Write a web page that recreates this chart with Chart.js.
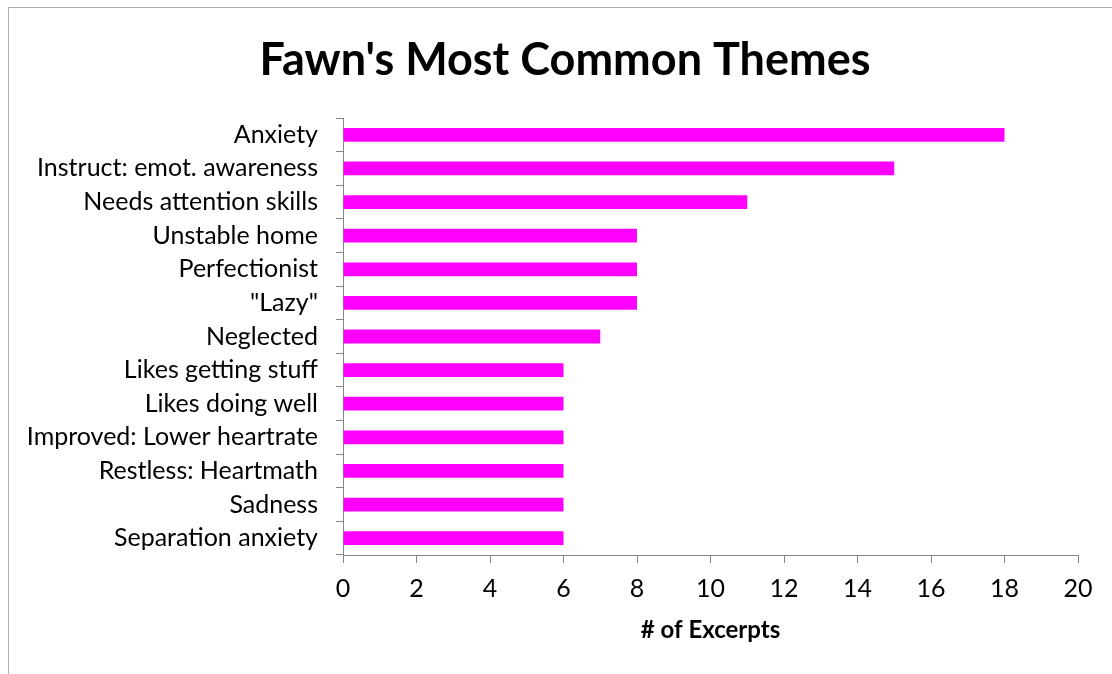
<!DOCTYPE html>
<html>
<head>
<meta charset="utf-8">
<script src="https://cdn.jsdelivr.net/npm/chart.js@4"></script>
<style>
  body { margin: 0; background: #fff; overflow: hidden; }
  #frame {
    position: absolute; left: 8px; top: 7px;
    width: 1200px; height: 700px;
    border: 1px solid #ababab;
  }
</style>
</head>
<body>
<div id="frame"><canvas id="themes" width="1112" height="666"></canvas></div>
<script>
// themes from the chart, top to bottom
const themes = ['Anxiety', 'Instruct: emot. awareness', 'Needs attention skills', 'Unstable home',
    'Perfectionist', '"Lazy"', 'Neglected', 'Likes getting stuff', 'Likes doing well',
    'Improved: Lower heartrate', 'Restless: Heartmath', 'Sadness', 'Separation anxiety'];
const excerpts = [18, 15, 11, 8, 8, 8, 7, 6, 6, 6, 6, 6, 6];
const xTicks = [0, 2, 4, 6, 8, 10, 12, 14, 16, 18, 20];

const FONT = 'Lato';
const axisGray = '#868686';

document.addEventListener("DOMContentLoaded", function () {
    const ctx = document.getElementById('themes').getContext('2d');
    new Chart(ctx, {
        type: 'bar',
        data: {
            labels: themes,
            datasets: [{
                label: '# of Excerpts',
                data: excerpts,
                backgroundColor: '#ff00ff',
                borderWidth: 0,
                categoryPercentage: 1,
                barPercentage: 0.41
            }]
        },
        options: {
            indexAxis: 'y',
            responsive: false,
            animation: false,
            layout: { padding: 0 },
            plugins: {
                legend: { display: false },
                tooltip: { enabled: false },
                title: {
                    display: true,
                    text: "Fawn's Most Common Themes",
                    color: '#000',
                    font: { family: FONT, size: 45, weight: 'bold' },
                    padding: { top: 25, bottom: 31 }
                }
            },
            scales: {
                x: {
                    min: 0,
                    max: 20,
                    afterBuildTicks: function (scale) {
                        scale.ticks = xTicks.map(v => ({ value: v }));
                    },
                    afterFit: function (scale) {
                        scale.height = 119;
                        scale.paddingRight = 43;  // keeps the plot's right edge off the title's centring
                    },
                    border: { display: true, color: axisGray, width: 1 },
                    grid: { drawOnChartArea: false, drawTicks: true, tickLength: 8, color: axisGray },
                    ticks: { color: '#000', font: { family: FONT, size: 25 }, padding: 11, maxRotation: 0 },
                    title: {
                        display: true,
                        text: '# of Excerpts',
                        color: '#000',
                        font: { family: FONT, size: 24, weight: 'bold' },
                        padding: { top: 0, bottom: 29 }
                    }
                },
                y: {
                    afterFit: function (scale) { scale.width = 334; },
                    border: { display: true, color: axisGray, width: 1 },
                    grid: { drawOnChartArea: false, drawTicks: true, tickLength: 7, color: axisGray, offset: true },
                    ticks: { color: '#000', font: { family: FONT, size: 25 }, padding: 18, autoSkip: false }
                }
            }
        }
    });
});
</script>
</body>
</html>
